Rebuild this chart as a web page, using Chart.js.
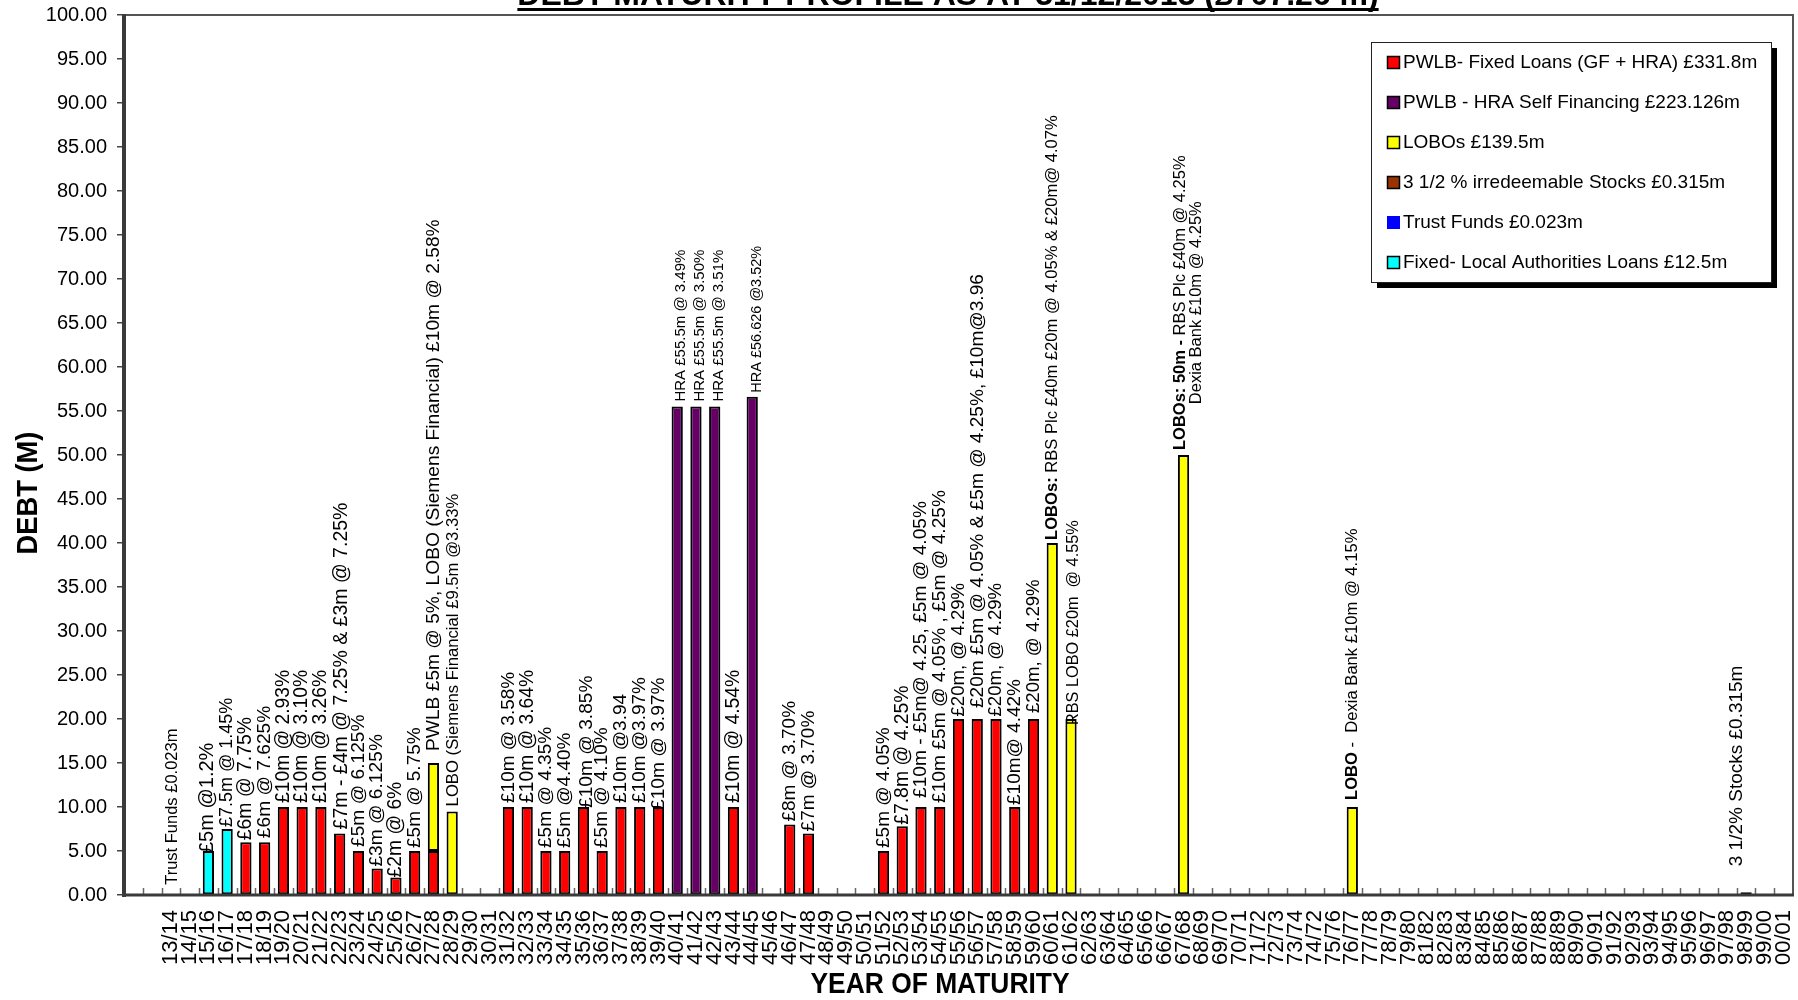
<!DOCTYPE html>
<html>
<head>
<meta charset="utf-8">
<title>Debt Maturity Profile</title>
<script src="https://cdn.jsdelivr.net/npm/chart.js@4.4.1/dist/chart.umd.min.js"></script>
<style>
  html, body { margin: 0; padding: 0; background: #fff; overflow: hidden; }
  canvas { display: block; }
</style>
</head>
<body>
<canvas id="chart" width="1798" height="1000" style="width:1798px;height:1000px"></canvas>
<script>
// ---- data -------------------------------------------------------------
const chartTitle = 'DEBT MATURITY PROFILE AS AT 31/12/2013 (£707.26 m)';
const yAxisTitle = 'DEBT (M)';
const xAxisTitle = 'YEAR OF MATURITY';

const categories = ['', '',
  '13/14','14/15','15/16','16/17','17/18','18/19','19/20','20/21','21/22','22/23',
  '23/24','24/25','25/26','26/27','27/28','28/29','29/30','30/31','31/32','32/33',
  '33/34','34/35','35/36','36/37','37/38','38/39','39/40','40/41','41/42','42/43',
  '43/44','44/45','45/46','46/47','47/48','48/49','49/50','50/51','51/52','52/53',
  '53/54','54/55','55/56','56/57','57/58','58/59','59/60','60/61','61/62','62/63',
  '63/64','64/65','65/66','66/67','67/68','68/69','69/70','70/71','71/72','72/73',
  '73/74','74/72','75/76','76/77','77/78','78/79','79/80','81/82','82/83','83/84',
  '84/85','85/86','86/87','87/88','88/89','89/90','90/91','91/92','92/93','93/94',
  '94/95','95/96','96/97','97/98','98/99','99/00','00/01'];

const seriesNames = [
  'PWLB- Fixed Loans (GF + HRA) £331.8m',
  'PWLB - HRA Self Financing £223.126m',
  'LOBOs £139.5m',
  '3 1/2 % irredeemable Stocks £0.315m',
  'Trust Funds £0.023m',
  'Fixed- Local Authorities Loans £12.5m'
];

// amounts in £m by year of maturity
const pwlbFixed = {
  '17/18': 6, '18/19': 6, '19/20': 10, '20/21': 10, '21/22': 10, '22/23': 7,
  '23/24': 5, '24/25': 3, '25/26': 2, '26/27': 5, '27/28': 5,
  '31/32': 10, '32/33': 10, '33/34': 5, '34/35': 5, '35/36': 10, '36/37': 5,
  '37/38': 10, '38/39': 10, '39/40': 10, '43/44': 10, '46/47': 8, '47/48': 7,
  '51/52': 5, '52/53': 7.8, '53/54': 10, '54/55': 10, '55/56': 20, '56/57': 20,
  '57/58': 20, '58/59': 10, '59/60': 20
};
const hraSelfFinancing = { '40/41': 55.5, '41/42': 55.5, '42/43': 55.5, '44/45': 56.626 };
const lobos = { '27/28': 10, '28/29': 9.5, '60/61': 40, '61/62': 20, '67/68': 50, '76/77': 10 };
const irredeemableStocks = { '98/99': 0.315 };
const trustFunds = { '13/14': 0.023 };
const localAuthorityLoans = { '15/16': 5, '16/17': 7.5 };

const seriesValues = [pwlbFixed, hraSelfFinancing, lobos, irredeemableStocks, trustFunds, localAuthorityLoans];

const yTicks = { min: 0, max: 100, step: 5 };

// loan notes written beside each year's column
const loanNotes = [
  ['13/14', 'Trust Funds £0.023m'],
  ['15/16', '£5m @1.2%'],
  ['16/17', '£7.5m @ 1.45%'],
  ['17/18', '£6m @ 7.75%'],
  ['18/19', '£6m @ 7.625%'],
  ['19/20', '£10m @ 2.93%'],
  ['20/21', '£10m @ 3.10%'],
  ['21/22', '£10m @ 3.26%'],
  ['22/23', '£7m - £4m @ 7.25% & £3m @ 7.25%'],
  ['23/24', '£5m @ 6.125%'],
  ['24/25', '£3m @ 6.125%'],
  ['25/26', '£2m @ 6%'],
  ['26/27', '£5m @ 5.75%'],
  ['27/28', 'PWLB £5m @ 5%, LOBO (Siemens Financial) £10m @ 2.58%'],
  ['28/29', 'LOBO (Siemens Financial £9.5m @3.33%'],
  ['31/32', '£10m @ 3.58%'],
  ['32/33', '£10m @ 3.64%'],
  ['33/34', '£5m @ 4.35%'],
  ['34/35', '£5m @4.40%'],
  ['35/36', '£10m @ 3.85%'],
  ['36/37', '£5m @ 4.10%'],
  ['37/38', '£10m @3.94'],
  ['38/39', '£10m @3.97%'],
  ['39/40', '£10m @ 3.97%'],
  ['40/41', 'HRA £55.5m @ 3.49%'],
  ['41/42', 'HRA £55.5m @ 3.50%'],
  ['42/43', 'HRA £55.5m @ 3.51%'],
  ['43/44', '£10m @ 4.54%'],
  ['44/45', 'HRA £56.626 @3.52%'],
  ['46/47', '£8m @ 3.70%'],
  ['47/48', '£7m @ 3.70%'],
  ['51/52', '£5m @ 4.05%'],
  ['52/53', '£7.8m @ 4.25%'],
  ['53/54', '£10m - £5m@ 4.25, £5m @ 4.05%'],
  ['54/55', '£10m £5m @ 4.05% , £5m @ 4.25%'],
  ['55/56', '£20m, @ 4.29%'],
  ['56/57', '£20m £5m @ 4.05% & £5m @ 4.25%, £10m@3.96'],
  ['57/58', '£20m, @ 4.29%'],
  ['58/59', '£10m@ 4.42%'],
  ['59/60', '£20m, @ 4.29%'],
  ['60/61', 'LOBOs: RBS Plc £40m £20m @ 4.05% & £20m@ 4.07%'],
  ['61/62', 'RBS LOBO £20m  @ 4.55%'],
  ['67/68', 'LOBOs: 50m - RBS Plc £40m @ 4.25%\nDexia Bank £10m @ 4.25%'],
  ['76/77', 'LOBO -  Dexia Bank £10m @ 4.15%'],
  ['98/99', '3 1/2% Stocks £0.315m']
];

// ---- styling ----------------------------------------------------------
const FONT = '"Liberation Sans", Arial, Helvetica, sans-serif';

const seriesStyle = [
  { fill: '#FF0000', border: 2 },
  { fill: '#660066', border: 2 },
  { fill: '#FFFF00', border: 2 },
  { fill: '#993300', border: 2 },
  { fill: '#0000FF', border: 0 },
  { fill: '#00FFFF', border: 2 }
];

// per-note layout: size (px), gap above the column top (px), sideways shift (px), bold lead-in
const noteLayout = {
  '13/14': { size: 16.5, gap: 10, dx: 2 },
  '15/16': { size: 20, gap: -2, dx: -1 },
  '16/17': { size: 18, gap: 2, dx: 0 },
  '17/18': { size: 19.4, gap: 2, dx: 0 },
  '18/19': { size: 19.2, gap: 4, dx: 0 },
  '19/20': { size: 19.3, gap: 4, dx: 0 },
  '20/21': { size: 19.3, gap: 4, dx: 0 },
  '21/22': { size: 19.3, gap: 4, dx: 0 },
  '22/23': { size: 19.5, gap: 4, dx: 2 },
  '23/24': { size: 19.2, gap: 4, dx: 0 },
  '24/25': { size: 19.2, gap: 2, dx: 0 },
  '25/26': { size: 19.3, gap: 0, dx: 0 },
  '26/27': { size: 19, gap: 3, dx: 0 },
  '27/28': { size: 19.2, gap: 12, dx: 0 },
  '28/29': { size: 16.7, gap: 5, dx: 1 },
  '31/32': { size: 19, gap: 4, dx: 0 },
  '32/33': { size: 19.3, gap: 4, dx: 0 },
  '33/34': { size: 19.1, gap: 3, dx: 0 },
  '34/35': { size: 19, gap: 3, dx: 0 },
  '35/36': { size: 19.2, gap: -1, dx: 3 },
  '36/37': { size: 19, gap: 3, dx: 0 },
  '37/38': { size: 19, gap: 4, dx: 0 },
  '38/39': { size: 19, gap: 4, dx: 0 },
  '39/40': { size: 19.2, gap: -3, dx: 0 },
  '40/41': { size: 15, gap: 5, dx: 4 },
  '41/42': { size: 15, gap: 5, dx: 4 },
  '42/43': { size: 15, gap: 5, dx: 4 },
  '43/44': { size: 19.3, gap: 4, dx: 0 },
  '44/45': { size: 14.5, gap: 4, dx: 5 },
  '46/47': { size: 19, gap: 3, dx: 0 },
  '47/48': { size: 19, gap: 2, dx: 0 },
  '51/52': { size: 19, gap: 3, dx: 0 },
  '52/53': { size: 19.4, gap: 1.5, dx: 0 },
  '53/54': { size: 19.2, gap: 9, dx: 0 },
  '54/55': { size: 19.2, gap: 4, dx: 0 },
  '55/56': { size: 18.6, gap: 2.5, dx: 0 },
  '56/57': { size: 19.1, gap: 11, dx: 0 },
  '57/58': { size: 18.6, gap: 2.5, dx: 0 },
  '58/59': { size: 19, gap: 2, dx: 0 },
  '59/60': { size: 18.6, gap: 6, dx: 0 },
  '60/61': { size: 16.6, gap: 3, dx: 0, bold: 'LOBOs:' },
  '61/62': { size: 16.3, gap: -6, dx: 2 },
  '67/68': { size: 16.5, gap: 5, dx: 5, lineGap: 16.5, bold: 'LOBOs: 50m -' },
  '76/77': { size: 16.6, gap: 7, dx: 0, bold: 'LOBO' },
  '98/99': { size: 19, gap: 26, dx: -9 }
};

// ---- build chart data from the tables above ----------------------------
const datasets = seriesValues.map((table, k) => ({
  label: seriesNames[k],
  data: categories.map(c => (c in table ? table[c] : null)),
  backgroundColor: seriesStyle[k].fill,
  borderColor: '#000000',
  borderWidth: seriesStyle[k].border,
  borderSkipped: false,
  barPercentage: 0.6,
  categoryPercentage: 1.0
}));

function columnTotal(chart, i) {
  let s = 0;
  chart.data.datasets.forEach(d => { s += d.data[i] || 0; });
  return s;
}

// frame, inner tick marks and the rotated loan notes
const plotDecorations = {
  id: 'plotDecorations',
  afterDatasetsDraw(chart) {
    const { ctx, chartArea: a, scales: { x, y } } = chart;
    const n = chart.data.labels.length;
    const slot = (a.right - a.left) / n;
    ctx.save();

    // small tick marks at category boundaries, pointing into the plot
    ctx.strokeStyle = '#666';
    ctx.lineWidth = 1.5;
    for (let i = 1; i < n; i++) {
      const px = Math.round(x.getPixelForValue(i) - slot / 2) + 0.5;
      ctx.beginPath();
      ctx.moveTo(px, a.bottom);
      ctx.lineTo(px, a.bottom - 7);
      ctx.stroke();
    }

    // plot frame
    ctx.strokeStyle = '#555';
    ctx.lineWidth = 2;
    ctx.beginPath();
    ctx.moveTo(a.left, a.top); ctx.lineTo(a.right, a.top); ctx.lineTo(a.right, a.bottom);
    ctx.stroke();
    ctx.strokeStyle = '#3a3a3a';
    ctx.lineWidth = 4;
    ctx.beginPath();
    ctx.moveTo(a.left, a.top - 1); ctx.lineTo(a.left, a.bottom + 2);
    ctx.stroke();
    ctx.lineWidth = 3;
    ctx.beginPath();
    ctx.moveTo(a.left, a.bottom); ctx.lineTo(a.right + 1, a.bottom);
    ctx.stroke();

    // loan notes
    ctx.fillStyle = '#000';
    ctx.textBaseline = 'middle';
    ctx.textAlign = 'left';
    loanNotes.forEach(([cat, text]) => {
      const i = categories.indexOf(cat);
      const st = noteLayout[cat];
      const top = y.getPixelForValue(columnTotal(chart, i));
      const cx = x.getPixelForValue(i) + st.dx;
      const lines = text.split('\n');
      const regular = `${st.size}px ${FONT}`;
      const bold = `bold ${st.size}px ${FONT}`;
      const pieces = lines.map((line, j) => {
        if (j === 0 && st.bold && line.startsWith(st.bold)) {
          return [[st.bold, bold], [line.slice(st.bold.length), regular]];
        }
        return [[line, regular]];
      });
      const widths = pieces.map(p => p.reduce((w, [t, f]) => { ctx.font = f; return w + ctx.measureText(t).width; }, 0));
      const maxW = Math.max(...widths);
      const lg = st.lineGap || 0;
      ctx.save();
      ctx.translate(cx, top - st.gap);
      ctx.rotate(-Math.PI / 2);
      pieces.forEach((p, j) => {
        let tx = (maxW - widths[j]) / 2;
        const ty = (j - (pieces.length - 1) / 2) * lg;
        p.forEach(([t, f]) => {
          ctx.font = f;
          ctx.fillText(t, tx, ty);
          tx += ctx.measureText(t).width;
        });
      });
      ctx.restore();
    });
    ctx.restore();
  }
};

// legend box with drop shadow, titles
const chartFurniture = {
  id: 'chartFurniture',
  afterDraw(chart) {
    const ctx = chart.ctx;
    ctx.save();

    // legend
    const L = 1371, T = 42, W = 400, H = 240;
    ctx.fillStyle = '#000';
    ctx.fillRect(L + 6, T + 6, W, H);
    ctx.fillStyle = '#fff';
    ctx.fillRect(L, T, W, H);
    ctx.strokeStyle = '#222';
    ctx.lineWidth = 1;
    ctx.strokeRect(L + 0.5, T + 0.5, W, H);
    ctx.textBaseline = 'middle';
    ctx.textAlign = 'left';
    ctx.font = `19px ${FONT}`;
    chart.data.datasets.forEach((ds, k) => {
      const cy = T + 20 + k * 40;
      ctx.fillStyle = ds.backgroundColor;
      ctx.fillRect(1387, cy - 6, 13, 13);
      if (ds.borderWidth) {
        ctx.strokeStyle = '#000';
        ctx.lineWidth = 1.5;
        ctx.strokeRect(1387.5, cy - 5.5, 12, 12);
      }
      ctx.fillStyle = '#000';
      ctx.fillText(ds.label, 1403, cy + 1);
    });

    // main title (sits at the very top edge)
    ctx.font = `bold 32px ${FONT}`;
    ctx.textAlign = 'center';
    ctx.textBaseline = 'alphabetic';
    const tw = ctx.measureText(chartTitle).width;
    ctx.fillText(chartTitle, 948, 5);
    ctx.fillRect(948 - tw / 2, 8, tw, 3);

    // axis titles, in a condensed bold face
    ctx.font = `bold 30px ${FONT}`;
    ctx.textBaseline = 'middle';
    ctx.save();
    ctx.translate(940, 985);
    ctx.scale(0.88, 1);
    ctx.fillText(xAxisTitle, 0, 0);
    ctx.restore();
    ctx.save();
    ctx.translate(29, 493);
    ctx.rotate(-Math.PI / 2);
    ctx.scale(0.91, 1);
    ctx.fillText(yAxisTitle, 0, 0);
    ctx.restore();

    ctx.restore();
  }
};

new Chart(document.getElementById('chart'), {
  type: 'bar',
  data: { labels: categories, datasets },
  options: {
    responsive: false,
    animation: false,
    devicePixelRatio: 1,
    layout: { padding: { top: 15, right: 5, left: 0, bottom: 0 } },
    plugins: { legend: { display: false }, tooltip: { enabled: false }, title: { display: false } },
    scales: {
      x: {
        stacked: true,
        offset: true,
        grid: { display: false },
        border: { display: false },
        ticks: {
          autoSkip: false, maxRotation: 90, minRotation: 90, padding: 7,
          color: '#000', font: { family: FONT, size: 22 }
        },
        afterFit(s) { s.height = 105; s.paddingLeft = 0; s.paddingRight = 0; }
      },
      y: {
        stacked: true,
        min: yTicks.min, max: yTicks.max,
        grid: { drawOnChartArea: false, drawTicks: true, tickLength: 7, color: '#444', lineWidth: 1.5 },
        border: { display: false },
        ticks: {
          stepSize: yTicks.step, padding: 10, color: '#000',
          font: { family: FONT, size: 20 },
          callback: v => Number(v).toFixed(2)
        },
        afterFit(s) { s.width = 124; s.paddingTop = 0; s.paddingBottom = 0; }
      }
    }
  },
  plugins: [plotDecorations, chartFurniture]
});
</script>
</body>
</html>
